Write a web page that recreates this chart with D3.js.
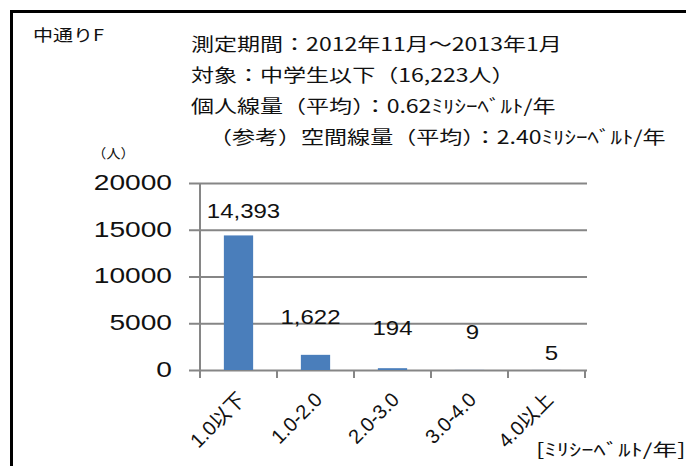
<!DOCTYPE html>
<html><head><meta charset="utf-8">
<script src="https://cdn.jsdelivr.net/npm/d3@7"></script>
<style>html,body{margin:0;padding:0;background:#fff;}svg{display:block;}</style>
</head><body>
<svg id="c" width="686" height="466"></svg>
<script>
// ---- data ----
const categories = ["1.0以下", "1.0-2.0", "2.0-3.0", "3.0-4.0", "4.0以上"];
const counts = [14393, 1622, 194, 9, 5];
const countLabels = ["14,393", "1,622", "194", "9", "5"];
const yTicks = [0, 5000, 10000, 15000, 20000];
const regionTitle = "中通りF";
const infoLines = [
  "測定期間：2012年11月～2013年1月",
  "対象：中学生以下（16,223人）",
  "個人線量（平均）：0.62ﾐﾘｼｰﾍﾞﾙﾄ/年",
  "（参考）空間線量（平均）：2.40ﾐﾘｼｰﾍﾞﾙﾄ/年"
];
const yUnit = "（人）";
const xUnit = "[ﾐﾘｼｰﾍﾞﾙﾄ/年]";

// ---- layout ----
const labelDx = [5, -5, 0, 3, 5];
const labelDy = [-24, -38, -40, -38, -17];
const SX = 1.28; // horizontal stretch of the original picture's text
const cjk = "'Noto Sans CJK JP','Noto Sans',sans-serif";
const lat = "'Liberation Sans',Arial,'Noto Sans CJK JP',sans-serif";

const svg = d3.select("#c");
svg.append("rect").attr("width",686).attr("height",466).attr("fill","#fff");
svg.append("rect").attr("x",11.5).attr("y",11.5).attr("width",700).attr("height",480)
  .attr("fill","none").attr("stroke","#000").attr("stroke-width",3);

const x = d3.scaleBand().domain(categories).range([200,585]).paddingInner(0.62).paddingOuter(0.31);
const y = d3.scaleLinear().domain([0,20000]).range([370,183]);

function stext(g, tx, ty, txt, size, anchor, family, sx){
  return g.append("text").attr("transform",`translate(${tx},${ty}) scale(${sx},1)`)
    .attr("text-anchor",anchor).attr("dominant-baseline","central")
    .attr("font-size",size).attr("font-family",family).attr("fill","#111").text(txt);
}

// gridlines (as y axis ticks)
const yAxis = d3.axisLeft(y).tickValues(yTicks).tickSize(-(587-189)).tickFormat("");
const ga = svg.append("g").attr("transform","translate(189,0)").call(yAxis);
ga.select(".domain").remove();
ga.selectAll("line").attr("stroke","#868686").attr("stroke-width",2);

// y tick labels
yTicks.forEach(t => stext(svg, 172, y(t)-1, String(t), 22, "end", lat, SX));

// vertical axis line
svg.append("line").attr("x1",200).attr("x2",200).attr("y1",y(20000)).attr("y2",378)
  .attr("stroke","#868686").attr("stroke-width",2);

// x axis ticks at band boundaries
const bounds = categories.map(c => x(c) - x.step()*x.paddingInner()/2);
bounds.push(x.range()[1]);
svg.append("g").selectAll("line").data(bounds.slice(1)).join("line")
  .attr("x1",d=>d).attr("x2",d=>d).attr("y1",370).attr("y2",378)
  .attr("stroke","#868686").attr("stroke-width",2);

// bars
svg.append("g").selectAll("rect").data(counts).join("rect")
  .attr("x",(d,i)=>x(categories[i])).attr("width",x.bandwidth())
  .attr("y",d=>y(d)).attr("height",d=>y(0)-y(d)).attr("fill","#4a7ebb");

// data labels
counts.forEach((d,i)=>{
  stext(svg, x(categories[i])+x.bandwidth()/2+labelDx[i], y(d)+labelDy[i], countLabels[i], 20, "middle", lat, 1.2);
});

// x tick labels (rotated)
categories.forEach(c=>{
  const cx = x(c)+x.bandwidth()/2+3;
  svg.append("text").attr("transform",`translate(${cx},396) rotate(-45)`)
    .attr("text-anchor","end").attr("dominant-baseline","central")
    .attr("font-size",20).attr("font-family",lat).attr("fill","#111").text(c);
});

// titles
stext(svg, 33, 34, regionTitle, 16, "start", cjk, 1.25);
const lineX = [191, 191, 191, 209];
const lineY = [43, 74, 105, 136];
infoLines.forEach((t,i)=> stext(svg, lineX[i], lineY[i], t, 18, "start", cjk, SX));
stext(svg, 92, 152, yUnit, 13, "start", cjk, 1.1);
stext(svg, 536, 448, xUnit, 17, "start", cjk, 1.45);
</script>
</body></html>
